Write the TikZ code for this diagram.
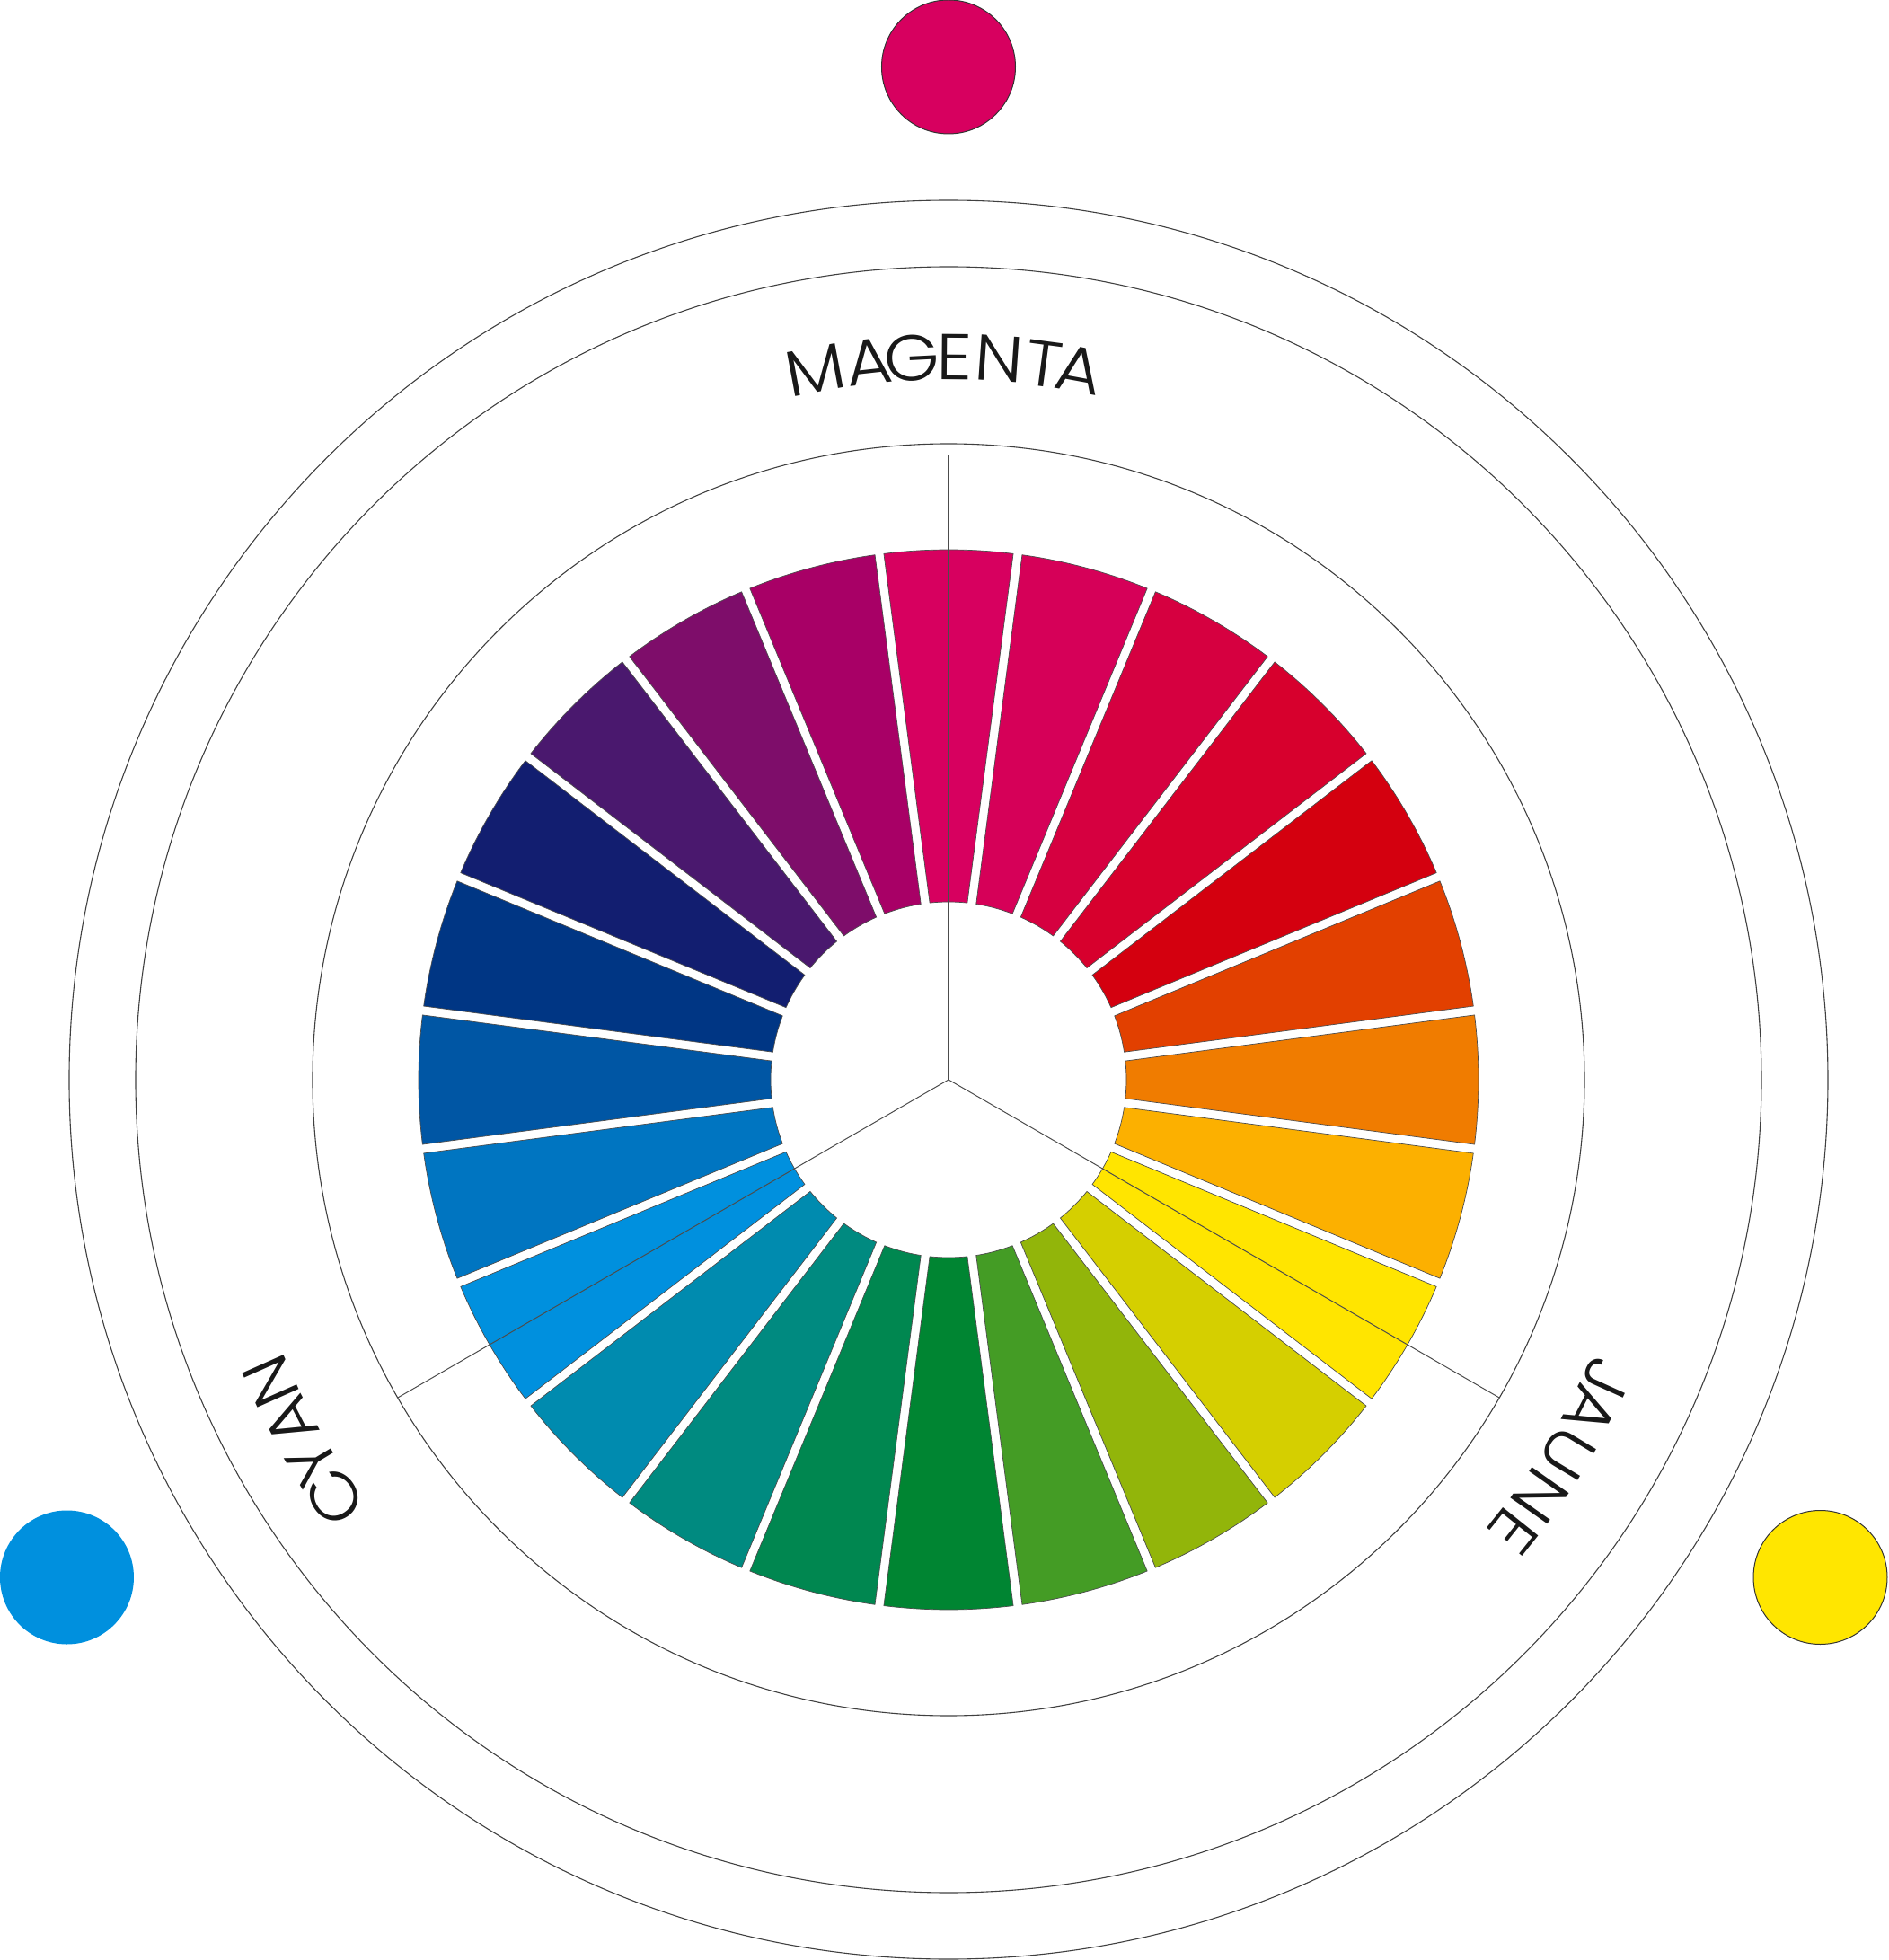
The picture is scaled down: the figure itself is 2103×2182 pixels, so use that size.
\documentclass[tikz,border=0pt]{standalone}
\usepackage{fontspec}
\IfFontExistsTF{Poppins Light}{\newfontfamily\labfont[FakeStretch=1.1]{Poppins Light}}{\newfontfamily\labfont[FakeStretch=1.1]{Poppins}}
\definecolor{s0}{HTML}{D7005F}
\definecolor{s1}{HTML}{D60058}
\definecolor{s2}{HTML}{D60040}
\definecolor{s3}{HTML}{D7002D}
\definecolor{s4}{HTML}{D4000F}
\definecolor{s5}{HTML}{E24000}
\definecolor{s6}{HTML}{F07C00}
\definecolor{s7}{HTML}{FCB000}
\definecolor{s8}{HTML}{FFE500}
\definecolor{s9}{HTML}{D5CF00}
\definecolor{s10}{HTML}{92B50A}
\definecolor{s11}{HTML}{449C25}
\definecolor{s12}{HTML}{008532}
\definecolor{s13}{HTML}{008750}
\definecolor{s14}{HTML}{008A80}
\definecolor{s15}{HTML}{008BAF}
\definecolor{s16}{HTML}{0090DE}
\definecolor{s17}{HTML}{0075C1}
\definecolor{s18}{HTML}{0056A4}
\definecolor{s19}{HTML}{003684}
\definecolor{s20}{HTML}{121E70}
\definecolor{s21}{HTML}{4A186E}
\definecolor{s22}{HTML}{7E0D6A}
\definecolor{s23}{HTML}{A80066}
\definecolor{magc}{HTML}{D7005F}
\definecolor{cyac}{HTML}{0090DE}
\definecolor{yelc}{HTML}{FFE600}
\tikzset{
  ring/.style={draw=black!75, line width=1.1pt},
  divline/.style={draw=black!70, line width=1pt},
  segment/.style={draw=black!70, line width=0.7pt},
  lab/.style={font=\labfont\fontsize{72}{72}\selectfont, inner sep=0pt, anchor=base, text=black!90},
  dot/.style={circle, inner sep=0pt, minimum size=149pt}
}
\begin{document}
\begin{tikzpicture}[x=1pt,y=1pt]
\useasboundingbox (-1056,-980) rectangle (1047,1202);
\coordinate (O) at (0,0);
% rings
\draw[ring] (O) circle[radius=708];
\draw[ring] (O) circle[radius=905];
\draw[ring] (O) circle[radius=979];
% wheel segments
\def\Ro{590}\def\Ri{198}
\pgfmathsetmacro{\ao}{asin(5/\Ro)}
\pgfmathsetmacro{\ai}{asin(5/\Ri)}
\foreach \c [count=\k from 0] in {s0,s1,s2,s3,s4,s5,s6,s7,s8,s9,s10,s11,s12,s13,s14,s15,s16,s17,s18,s19,s20,s21,s22,s23}{
  \pgfmathsetmacro{\phi}{90-15*\k}
  \pgfmathsetmacro{\aA}{\phi+7.5-\ao}
  \pgfmathsetmacro{\aB}{\phi-7.5+\ao}
  \pgfmathsetmacro{\aC}{\phi-7.5+\ai}
  \pgfmathsetmacro{\aD}{\phi+7.5-\ai}
  \filldraw[segment, fill=\c] (\aA:\Ro) arc[start angle=\aA, end angle=\aB, radius=\Ro]
     -- (\aC:\Ri) arc[start angle=\aC, end angle=\aD, radius=\Ri] -- cycle;
}
% dividing lines
\coordinate (eM) at (90:695);
\coordinate (eC) at (210:708);
\coordinate (eY) at (330:708);
\draw[divline] (O) -- (eM);
\draw[divline] (O) -- (eC);
\draw[divline] (O) -- (eY);
% labels
\foreach \ch/\a [count=\i] in {M/100.6, A/96.3, G/92.9, E/89.5, N/86.0, T/82.4, A/79.6}
  \node[lab, rotate=\a-90] (mg\i) at (\a:779) {\ch};
\foreach \ch/\a [count=\i] in {C/214.2, Y/211.1, A/207.5, N/204.0}
  \node[lab, rotate=\a-90] (cy\i) at (\a:801) {\ch};
\foreach \ch/\a [count=\i] in {J/335.6, A/332.7, U/328.9, N/324.9, E/321.4}
  \node[lab, rotate=\a-90] (ja\i) at (\a:780) {\ch};
% primary dots
\node[dot, fill=magc, draw=black!80, line width=1pt] (pm) at (0,1127.5) {};
\node[dot, fill=cyac] (pc) at (-981.5,-554) {};
\node[dot, fill=yelc, draw=black!80, line width=1pt] (py) at (970.5,-554) {};
\end{tikzpicture}
\end{document}
